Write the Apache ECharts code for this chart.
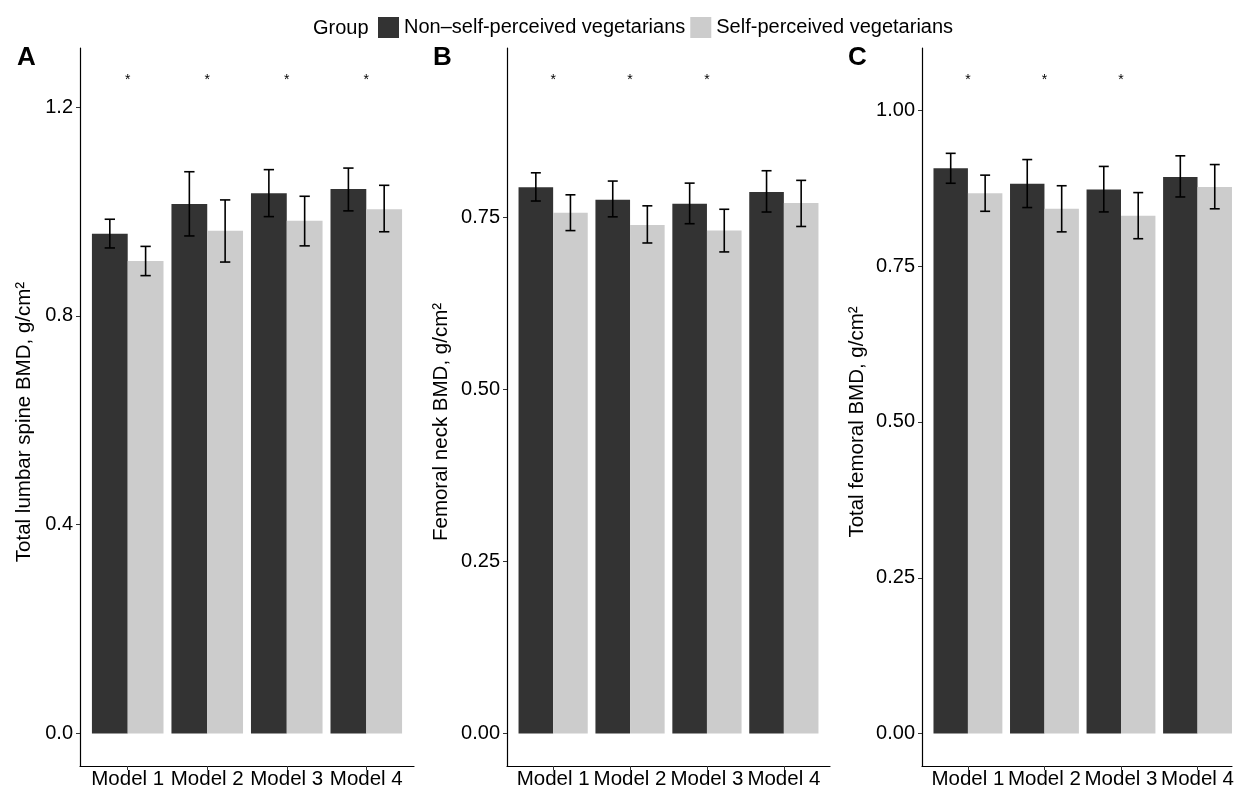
<!DOCTYPE html>
<html>
<head>
<meta charset="utf-8">
<script src="https://cdn.jsdelivr.net/npm/echarts@6/dist/echarts.min.js"></script>
<style>html,body{margin:0;padding:0;background:#fff}#chart{width:1237px;height:791px}</style>
</head>
<body>
<div id="chart"></div>
<script>
// ---- data ----
const models = ['Model 1', 'Model 2', 'Model 3', 'Model 4'];
const groupNames = ['Non–self-perceived vegetarians', 'Self-perceived vegetarians'];

// Panel A: total lumbar spine BMD
const lumbarNon = [0.957, 1.014, 1.035, 1.043];
const lumbarNonLo = [0.930, 0.953, 0.990, 1.001];
const lumbarNonHi = [0.985, 1.076, 1.080, 1.083];
const lumbarVeg = [0.905, 0.963, 0.982, 1.004];
const lumbarVegLo = [0.877, 0.903, 0.934, 0.961];
const lumbarVegHi = [0.933, 1.022, 1.029, 1.050];
const lumbarSig = ['*', '*', '*', '*'];
const lumbarSigY = 1.256;
const lumbarTicks = [0, 0.4, 0.8, 1.2];

// Panel B: femoral neck BMD
const neckNon = [0.794, 0.776, 0.770, 0.787];
const neckNonLo = [0.774, 0.751, 0.741, 0.758];
const neckNonHi = [0.815, 0.803, 0.800, 0.818];
const neckVeg = [0.757, 0.739, 0.731, 0.771];
const neckVegLo = [0.731, 0.713, 0.700, 0.737];
const neckVegHi = [0.783, 0.767, 0.762, 0.804];
const neckSig = ['*', '*', '*', ''];
const neckSigY = 0.953;
const neckTicks = [0, 0.25, 0.5, 0.75];

// Panel C: total femoral BMD
const femNon = [0.907, 0.882, 0.873, 0.893];
const femNonLo = [0.883, 0.844, 0.837, 0.861];
const femNonHi = [0.931, 0.921, 0.910, 0.927];
const femVeg = [0.867, 0.842, 0.831, 0.877];
const femVegLo = [0.838, 0.805, 0.794, 0.842];
const femVegHi = [0.896, 0.879, 0.868, 0.913];
const femSig = ['*', '*', '*', ''];
const femSigY = 1.052;
const femTicks = [0, 0.25, 0.5, 0.75, 1.0];

// ---- styling / layout ----
const FONT = "'Liberation Sans', Arial, Helvetica, sans-serif";
const DARK = '#333333', LIGHT = '#cccccc';
const BARW = 0.45, CAP = 0.065;

const panels = [
  { letter: 'A', title: 'Total lumbar spine BMD, g/cm²', left: 80, width: 334, xmax: 4.6, ymin: -0.0623, ymax: 1.313,
    ticks: lumbarTicks, dec: 1, nameGap: 45,
    non: lumbarNon, nonLo: lumbarNonLo, nonHi: lumbarNonHi, veg: lumbarVeg, vegLo: lumbarVegLo, vegHi: lumbarVegHi,
    sig: lumbarSig, sigY: lumbarSigY, letterX: 12 },
  { letter: 'B', title: 'Femoral neck BMD, g/cm²', left: 507, width: 323, xmax: 4.6, ymin: -0.0472, ymax: 0.9964,
    ticks: neckTicks, dec: 2, nameGap: 55,
    non: neckNon, nonLo: neckNonLo, nonHi: neckNonHi, veg: neckVeg, vegLo: neckVegLo, vegHi: neckVegHi,
    sig: neckSig, sigY: neckSigY, letterX: 428 },
  { letter: 'C', title: 'Total femoral BMD, g/cm²', left: 922, width: 315, xmax: 4.45, ymin: -0.052, ymax: 1.100,
    ticks: femTicks, dec: 2, nameGap: 54,
    non: femNon, nonLo: femNonLo, nonHi: femNonHi, veg: femVeg, vegLo: femVegLo, vegHi: femVegHi,
    sig: femSig, sigY: femSigY, letterX: 843 }
];

const grids = [], xAxes = [], yAxes = [], series = [];
const titles = [{ text: 'Group', left: 308, top: 13, textStyle: { fontFamily: FONT, fontSize: 20, fontWeight: 'normal', color: '#000' } }];

function barRender(offset, color) {
  return function (params, api) {
    const x = api.value(0), v = api.value(1);
    const p0 = api.coord([x + offset, v]);
    const p1 = api.coord([x + offset + BARW, 0]);
    return { type: 'rect', shape: { x: p0[0], y: p0[1], width: p1[0] - p0[0], height: p1[1] - p0[1] },
      style: { fill: color } };
  };
}
function errRender(offset) {
  return function (params, api) {
    const x = api.value(0) + offset, lo = api.value(1), hi = api.value(2);
    const a = api.coord([x, hi]), b = api.coord([x, lo]);
    const l = api.coord([x - CAP, hi]), r = api.coord([x + CAP, lo]);
    const st = { stroke: '#000', lineWidth: 1.6 };
    return { type: 'group', children: [
      { type: 'line', shape: { x1: a[0], y1: a[1], x2: b[0], y2: b[1] }, style: st },
      { type: 'line', shape: { x1: l[0], y1: a[1], x2: r[0], y2: a[1] }, style: st },
      { type: 'line', shape: { x1: l[0], y1: b[1], x2: r[0], y2: b[1] }, style: st }
    ] };
  };
}
function sigRender(labels) {
  return function (params, api) {
    const p = api.coord([api.value(0), api.value(1)]);
    return { type: 'text', x: p[0], y: p[1] + 2, style: { text: labels[params.dataIndex], fill: '#000', font: '14px ' + FONT, align: 'center', verticalAlign: 'middle' } };
  };
}

panels.forEach((p, k) => {
  grids.push({ left: p.left, top: 48, width: p.width, height: 718, containLabel: false });
  titles.push({ text: p.letter, left: p.letterX, top: 40, textStyle: { fontFamily: FONT, fontSize: 26, fontWeight: 'bold', color: '#000' } });
  xAxes.push({
    type: 'value', gridIndex: k, min: 0.4, max: p.xmax,
    axisLine: { show: true, onZero: false, lineStyle: { color: '#000', width: 1.2 } },
    axisTick: { show: true, length: 4, customValues: [1, 2, 3, 4], lineStyle: { color: '#333' } },
    axisLabel: { customValues: [1, 2, 3, 4], formatter: v => models[Math.round(v) - 1], margin: 3,
      fontFamily: FONT, fontSize: 20.5, color: '#000', hideOverlap: false },
    splitLine: { show: false }
  });
  yAxes.push({
    type: 'value', gridIndex: k, min: p.ymin, max: p.ymax,
    name: p.title, nameLocation: 'middle', nameRotate: 90, nameGap: p.nameGap,
    nameTextStyle: { fontFamily: FONT, fontSize: 20.5, color: '#000', padding: [0, 30, 0, 0] },
    axisLine: { show: true, lineStyle: { color: '#000', width: 1.2 } },
    axisTick: { show: true, length: 4, customValues: p.ticks, lineStyle: { color: '#333' } },
    axisLabel: { customValues: p.ticks, formatter: v => Number(v).toFixed(p.dec), margin: 7,
      fontFamily: FONT, fontSize: 20, color: '#000' },
    splitLine: { show: false }
  });
  series.push({ type: 'custom', name: groupNames[0], xAxisIndex: k, yAxisIndex: k, itemStyle: { color: DARK },
    renderItem: barRender(-BARW, DARK), data: p.non.map((v, i) => [i + 1, v]) });
  series.push({ type: 'custom', name: groupNames[1], xAxisIndex: k, yAxisIndex: k, itemStyle: { color: LIGHT },
    renderItem: barRender(0, LIGHT), data: p.veg.map((v, i) => [i + 1, v]) });
  series.push({ type: 'custom', xAxisIndex: k, yAxisIndex: k, renderItem: errRender(-BARW / 2), z: 5,
    data: p.nonLo.map((v, i) => [i + 1, v, p.nonHi[i]]) });
  series.push({ type: 'custom', xAxisIndex: k, yAxisIndex: k, renderItem: errRender(BARW / 2), z: 5,
    data: p.vegLo.map((v, i) => [i + 1, v, p.vegHi[i]]) });
  series.push({ type: 'custom', xAxisIndex: k, yAxisIndex: k, renderItem: sigRender(p.sig), z: 5,
    data: p.sig.map((s, i) => [i + 1, p.sigY]) });
});

const chart = echarts.init(document.getElementById('chart'), null, { renderer: 'canvas' });
chart.setOption({
  animation: false,
  backgroundColor: '#fff',
  title: titles,
  legend: {
    data: groupNames.map(n => ({ name: n, icon: 'rect' })),
    left: 373, top: 12, itemWidth: 21, itemHeight: 21, itemGap: 5,
    textStyle: { fontFamily: FONT, fontSize: 20, color: '#000' },
    selectedMode: false
  },
  grid: grids, xAxis: xAxes, yAxis: yAxes, series: series
});
</script>
</body>
</html>
